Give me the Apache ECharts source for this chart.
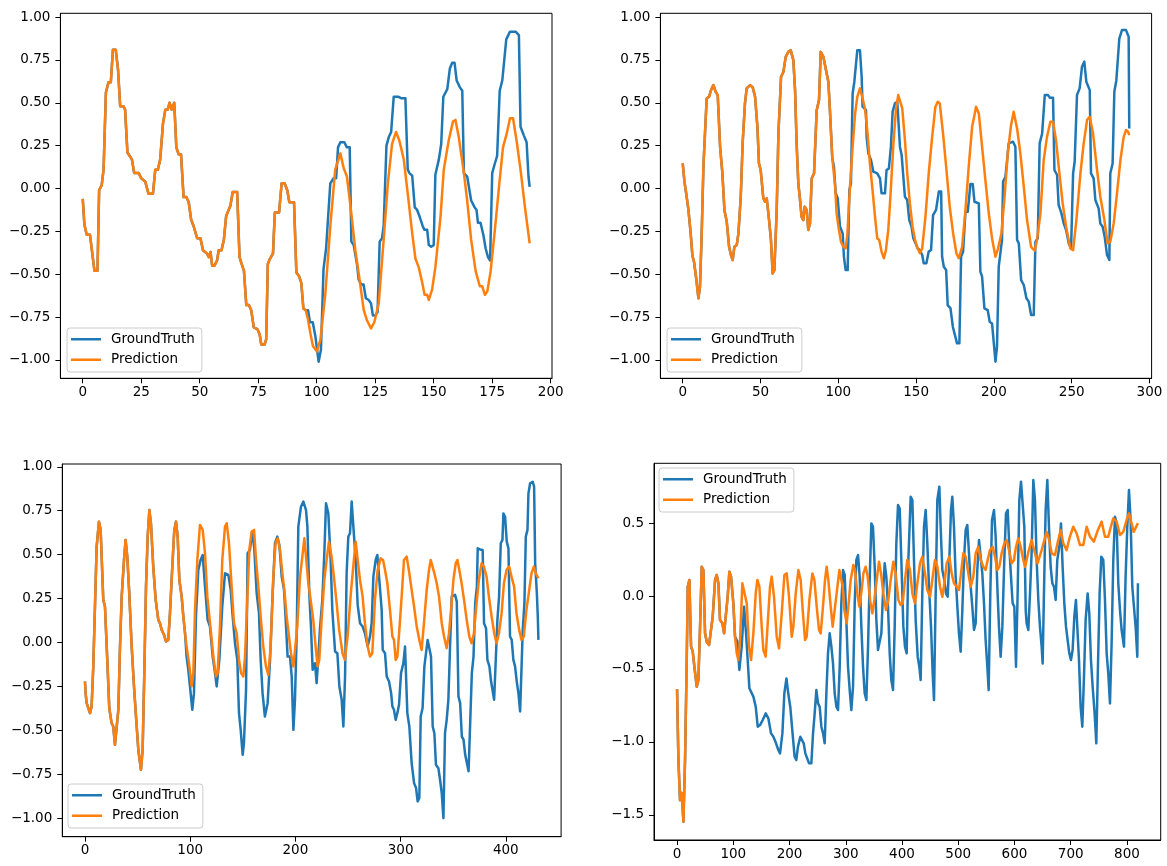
<!DOCTYPE html>
<html>
<head>
<meta charset="utf-8">
<script src="https://cdn.jsdelivr.net/npm/echarts@6/dist/echarts.min.js"></script>
<style>html,body{margin:0;padding:0;background:#fff}#c{width:1167px;height:866px}</style>
</head>
<body>
<div id="c"></div>
<script>
// ---------- Panel 1 (0..191) ----------
const p1Shared = [[0,-0.06],[0.7,-0.21],[1.7,-0.27],[3.1,-0.27],[5,-0.48],[6.3,-0.48],[7,-0.01],[8.1,0.02],[8.9,0.11],[9.9,0.56],[11,0.62],[12,0.62],[12.9,0.81],[14.1,0.81],[15.1,0.69],[16,0.48],[17.4,0.48],[18.1,0.46],[19.1,0.21],[21,0.17],[22,0.09],[23.9,0.09],[25,0.06],[26.7,0.04],[28.1,-0.03],[30,-0.03],[31,0.11],[32.1,0.11],[33.1,0.17],[34.3,0.38],[35.3,0.46],[36.3,0.46],[37.1,0.5],[38,0.46],[39.1,0.5],[40,0.24],[41,0.2],[42,0.2],[43.1,-0.05],[44.3,-0.05],[45.3,-0.08],[46.3,-0.18],[47.4,-0.22],[48.9,-0.29],[50.3,-0.29],[51.4,-0.36],[53.1,-0.38],[53.9,-0.4],[54.6,-0.37],[55.3,-0.45],[56.3,-0.45],[57.4,-0.42],[58.1,-0.36],[59.3,-0.36],[60.3,-0.3],[61.3,-0.16],[63.1,-0.1],[64.1,-0.02],[66,-0.02],[67,-0.4],[67.9,-0.44],[68.9,-0.48],[69.9,-0.68],[71,-0.68],[72,-0.71],[73.1,-0.81],[74.6,-0.82],[75.6,-0.85],[76.3,-0.91],[77.7,-0.91],[78.4,-0.88],[79.1,-0.44],[80,-0.41],[81.3,-0.38],[82.1,-0.14],[83.9,-0.14],[85,0.03],[86.3,0.03],[87.4,-0.01],[88.3,-0.08],[90.3,-0.08],[91.3,-0.49],[92.4,-0.51],[93.4,-0.55],[94.3,-0.7],[95.3,-0.71]];
const p1TruthTail = [[96.3,-0.71],[97.1,-0.78],[98.3,-0.78],[99.4,-0.86],[100.8,-1.01],[101.8,-0.94],[102.9,-0.47],[104,-0.35],[105.8,0.03],[107.2,0.06],[108.3,0.06],[109.1,0.24],[110.1,0.27],[111.8,0.27],[112.9,0.24],[114.1,0.24],[114.8,-0.31],[115.8,-0.33],[117.2,-0.44],[117.9,-0.53],[119,-0.56],[120,-0.56],[121,-0.64],[122.2,-0.65],[123.2,-0.67],[124,-0.74],[125,-0.74],[126,-0.72],[126.9,-0.31],[127.9,-0.29],[128.6,-0.22],[129.8,0.25],[130.8,0.3],[131.8,0.33],[132.9,0.535],[135,0.535],[136.2,0.526],[137.9,0.526],[138.9,0.11],[139.6,0.09],[140.8,0.075],[141.9,-0.11],[142.9,-0.125],[144,-0.165],[145.3,-0.22],[146,-0.24],[147.2,-0.24],[147.9,-0.33],[148.9,-0.34],[150,-0.33],[150.7,0.08],[152.2,0.17],[153.2,0.26],[154.1,0.535],[155.8,0.58],[156.9,0.7],[157.9,0.734],[158.9,0.734],[159.8,0.63],[161.2,0.59],[162.2,0.57],[162.9,0.09],[164.3,0.07],[165,0.07],[166,-0.07],[167.5,-0.11],[168.3,-0.125],[168.9,-0.2],[170,-0.2],[171.2,-0.27],[172.2,-0.35],[173.2,-0.4],[174.1,-0.42],[175,0.09],[176,0.14],[177.1,0.19],[178.2,0.57],[179.3,0.63],[180,0.64],[181,0.87],[182.6,0.915],[185,0.915],[186.4,0.895],[187.1,0.36],[188.5,0.31],[189.7,0.27],[190.5,0.07],[191,0.01]];
const p1PredTail = [[96.2,-0.76],[97.3,-0.845],[98.4,-0.92],[100.1,-0.95],[101.6,-0.88],[103.7,-0.61],[105.8,-0.22],[107.9,0.11],[110.1,0.205],[111.5,0.12],[112.9,0.07],[114.4,-0.1],[116.5,-0.36],[118.7,-0.57],[120.1,-0.71],[121.5,-0.77],[123.2,-0.816],[124.6,-0.78],[126.5,-0.67],[128.6,-0.3],[130.4,0.03],[132.2,0.26],[133.9,0.33],[135.3,0.28],[137.2,0.17],[138.9,-0.03],[140.8,-0.26],[142.2,-0.41],[143.6,-0.46],[145.1,-0.55],[146.1,-0.62],[147.2,-0.62],[147.9,-0.65],[149.3,-0.59],[150.7,-0.46],[152.9,-0.165],[154.3,0.11],[156.4,0.28],[158.2,0.39],[159.3,0.4],[160.7,0.3],[162.9,0.09],[164.3,-0.07],[166,-0.3],[167.9,-0.48],[169.7,-0.57],[170.7,-0.57],[171.9,-0.62],[172.9,-0.6],[174.3,-0.485],[176,-0.26],[177.9,0.01],[179.6,0.24],[181.2,0.32],[182.6,0.41],[183.9,0.41],[185.4,0.28],[187.1,0.11],[189,-0.11],[191,-0.32]];

// ---------- Panel 2 (0..287) ----------
const p2Shared = [[0,0.146],[1.1,0.04],[2.1,-0.02],[3.6,-0.12],[5.1,-0.26],[6.2,-0.39],[7.3,-0.43],[8.6,-0.52],[10.1,-0.64],[11.1,-0.57],[12.2,-0.26],[13.3,0.13],[14.3,0.32],[15.4,0.525],[16.9,0.535],[18.2,0.574],[19.7,0.603],[21.2,0.564],[22.5,0.545],[24,0.244],[25.5,0.088],[26.8,-0.126],[28.3,-0.194],[29.8,-0.34],[31,-0.388],[32.1,-0.417],[33.2,-0.34],[34.7,-0.33],[35.8,-0.262],[37.3,-0.048],[38.5,0.263],[40,0.497],[41.1,0.584],[43.3,0.603],[45,0.59],[46.5,0.535],[48,0.36],[49,0.146],[50.1,0.108],[51.8,-0.057],[52.9,-0.077],[54,-0.057],[55.5,-0.184],[56.7,-0.3],[57.8,-0.495],[58.9,-0.476],[60.4,-0.126],[61.5,0.321],[63.2,0.652],[64.7,0.68],[66.2,0.768],[67.9,0.797],[69.4,0.807],[71.1,0.749],[72.2,0.574],[73.2,0.263],[74.3,0.03],[75.4,-0.067],[76.4,-0.165],[77.5,-0.184],[78.4,-0.106],[79.7,-0.126],[80.7,-0.242],[81.8,-0.204],[82.9,0.059],[84.4,0.088],[86.1,0.457],[87.6,0.516],[88.7,0.797],[90.4,0.768],[92.1,0.69],[93.6,0.623],[94.6,0.457],[96.1,0.18]];
const p2TruthTail = [[97.2,0.127],[98.3,-0.028],[99.6,-0.057],[101.1,-0.223],[102.8,-0.262],[103.6,-0.397],[104.7,-0.476],[106,-0.476],[107.1,-0.009],[108.1,0.03],[109.2,0.554],[110.3,0.623],[111.3,0.623],[112.2,0.807],[113.9,0.807],[115,0.652],[115.6,0.477],[117.8,0.457],[118.2,0.3],[119.3,0.205],[121,0.166],[122.5,0.098],[125,0.088],[126.8,0.059],[127.8,-0.028],[130,-0.028],[131,0.108],[132.5,0.117],[133.8,0.244],[134.9,0.448],[136.4,0.497],[137.9,0.506],[139,0.497],[139.6,0.244],[140.7,0.195],[141.8,0.195],[142.8,-0.048],[144.3,-0.067],[145.6,-0.184],[147.1,-0.223],[148.2,-0.29],[149.7,-0.32],[151,-0.35],[152.4,-0.359],[153.9,-0.388],[154.9,-0.436],[156.6,-0.436],[158.1,-0.368],[159.6,-0.359],[160.9,-0.155],[162.8,-0.125],[164.6,-0.018],[166.1,-0.018],[166.7,-0.397],[167.8,-0.456],[169.3,-0.476],[170.3,-0.68],[172.1,-0.699],[173.6,-0.806],[174.6,-0.816],[176.3,-0.903],[177.8,-0.903],[178.9,-0.397],[180.2,-0.368],[181.7,-0.136],[183.2,-0.136],[184.9,0.026],[186.4,0.026],[187.5,-0.077],[190.3,-0.087],[191.3,-0.485],[192.4,-0.514],[193.9,-0.699],[196,-0.709],[197.3,-0.777],[198.8,-0.787],[201,-1.01],[202,-0.922],[203.1,-0.456],[205.2,-0.3],[205.9,0.04],[207.4,0.069],[208.5,0.166],[209.5,0.263],[210.6,0.273],[212.3,0.273],[213.8,0.244],[214.9,-0.3],[216,-0.32],[217.5,-0.534],[219.2,-0.563],[220.9,-0.64],[222.4,-0.66],[223.9,-0.738],[225.6,-0.738],[226.7,-0.31],[228.2,-0.29],[229.4,0.263],[231,0.321],[232.7,0.545],[234.8,0.545],[235.9,0.53],[238,0.53],[238.9,0.108],[240.6,0.079],[241.6,-0.096],[243.4,-0.145],[244.9,-0.204],[246.4,-0.242],[248.1,-0.32],[249.6,-0.349],[250.9,0.088],[251.9,0.156],[253.4,0.545],[255.1,0.584],[256.6,0.71],[258.1,0.74],[259.4,0.623],[261.6,0.574],[262.4,0.088],[264.1,0.059],[265.2,-0.067],[267.3,-0.116],[268.4,-0.204],[269.9,-0.223],[271.2,-0.281],[272.7,-0.388],[274.2,-0.417],[274.8,0.088],[276.3,0.146],[277.4,0.564],[278.7,0.632],[279.6,0.642],[280.6,0.875],[282.3,0.924],[284.9,0.924],[286.6,0.885],[287,0.35]];
const p2PredTail = [[97.9,0.02],[98.9,-0.145],[100.4,-0.242],[101.7,-0.31],[103.2,-0.339],[104.7,-0.349],[105.8,-0.27],[107.5,0.011],[109.2,0.244],[110.7,0.428],[112.2,0.535],[113.9,0.584],[115.6,0.525],[117.1,0.467],[118.8,0.321],[120.3,0.146],[122,-0.009],[123.6,-0.165],[125,-0.29],[126.3,-0.3],[127.8,-0.368],[129.3,-0.407],[130.6,-0.359],[132.1,-0.242],[133.6,-0.028],[135.3,0.244],[137,0.457],[138.5,0.545],[139.6,0.545],[141.1,0.467],[142.8,0.283],[144.3,0.088],[146,-0.087],[147.7,-0.223],[149.3,-0.3],[150.6,-0.34],[152.4,-0.378],[153.9,-0.349],[156,-0.165],[158.1,0.088],[160.3,0.3],[162.4,0.477],[163.9,0.506],[165.2,0.496],[167.3,0.321],[169.5,0.108],[171.6,-0.106],[173.8,-0.262],[175.9,-0.378],[177.4,-0.407],[179.6,-0.34],[181.7,-0.126],[183.8,0.127],[186,0.36],[187.5,0.428],[188.5,0.477],[190.3,0.438],[192.4,0.244],[194.5,0.05],[196.7,-0.145],[198.8,-0.291],[201,-0.398],[202.7,-0.349],[204.8,-0.262],[206.7,-0.067],[208.9,0.205],[211,0.369],[212.7,0.448],[214.9,0.35],[217,0.205],[219.2,0.011],[221.3,-0.184],[223.9,-0.34],[226.2,-0.363],[227.7,-0.3],[229.9,-0.145],[232,0.166],[234.1,0.3],[236.3,0.39],[238,0.39],[239.9,0.283],[242.1,0.088],[244.2,-0.087],[246.4,-0.223],[249.1,-0.349],[250.9,-0.359],[253,-0.184],[255.6,0.088],[257.7,0.263],[259.9,0.4],[261.6,0.418],[263.7,0.321],[266.3,0.108],[268.4,-0.048],[271,-0.184],[273.1,-0.32],[274.8,-0.31],[277,-0.204],[279.1,-0.028],[281.3,0.166],[283.4,0.3],[284.9,0.341],[286.2,0.331],[287,0.311]];

// ---------- Panel 3 (0..431) ----------
const p3Shared = [[0,-0.222],[0.6,-0.288],[1.6,-0.345],[3.2,-0.354],[4.8,-0.402],[6.3,-0.364],[7.9,-0.136],[9.5,0.205],[11.1,0.546],[13.3,0.688],[14.9,0.641],[17.4,0.243],[19,0.205],[21.2,-0.099],[23.1,-0.373],[25.3,-0.459],[26.9,-0.478],[28.5,-0.582],[30.1,-0.582],[31.7,-0.383],[33.3,-0.023],[34.9,0.261],[37.1,0.47],[38.6,0.584],[40.2,0.489],[42.1,0.28],[44.4,-0.023],[46.6,-0.25],[48.5,-0.421],[50.7,-0.61],[53.2,-0.724],[54.8,-0.61],[56.4,-0.174],[58,0.318],[59.6,0.603],[61.2,0.754],[62.7,0.679],[64.9,0.432],[67.2,0.243],[69.7,0.129],[71.3,0.11],[72.9,0.072],[75.1,0.044],[77,0.006],[79.2,0.015],[80.8,0.167],[83,0.432],[84.9,0.641],[86.5,0.688],[88.1,0.603],[89.7,0.356],[91.9,0.261],[93.5,0.148],[95.1,0.053]];
const p3TruthTail = [[96.6,-0.08],[98.2,-0.155],[99.8,-0.25],[102,-0.383],[103.6,-0.288],[105.5,0.148],[107.7,0.413],[109.9,0.47],[111.9,0.498],[114.1,0.318],[116.6,0.129],[118.8,0.091],[121.4,-0.08],[123.6,-0.174],[125.2,-0.25],[127.7,-0.099],[130.5,0.205],[133.1,0.394],[136.3,0.385],[138.5,0.3],[140.4,0.148],[142.6,-0.004],[144.8,-0.099],[146.4,-0.402],[148,-0.497],[149.9,-0.639],[151.1,-0.572],[153.1,-0.269],[154.6,0.508],[156.8,0.527],[159,0.631],[160.9,0.536],[163.2,0.28],[165.4,0.167],[167,-0.099],[168.8,-0.288],[171,-0.421],[173.6,-0.345],[175.9,-0.099],[178.4,0.28],[180.6,0.565],[182.8,0.603],[184.8,0.555],[187,0.375],[189.2,0.3],[190.8,0.129],[192.6,-0.08],[194.9,-0.08],[196.5,-0.193],[198.1,-0.497],[199.6,-0.326],[201.2,0.034],[202.8,0.66],[205.3,0.773],[207.6,0.802],[210.1,0.754],[211.4,0.66],[213.2,0.28],[214.8,0.091],[216.4,-0.155],[218.6,-0.118],[220.2,-0.231],[221.8,-0.08],[223.4,0.082],[225.6,0.243],[227.5,0.508],[229.1,0.792],[231.3,0.735],[233.5,0.47],[235.1,0.186],[237.7,-0.051],[239.9,-0.061],[241.8,-0.25],[244,-0.326],[245.6,-0.478],[247.2,-0.193],[248.7,0.394],[250.3,0.603],[251.9,0.622],[253.5,0.802],[255.1,0.66],[257.3,0.47],[259.2,0.214],[261.4,0.11],[263.9,0.091],[266.1,0.053],[268.7,-0.023],[270.9,0.034],[272.5,0.11],[274.1,0.375],[276.3,0.47],[277.9,0.498],[279.8,0.489],[282,0.186],[283,-0.042],[285.2,-0.061],[286.8,-0.193],[289,-0.222],[291,-0.288],[292.2,-0.364],[293.7,-0.383],[295.3,-0.44],[296.9,-0.402],[298.5,-0.354],[300.4,-0.174],[302.6,-0.118],[304.2,-0.023],[305.8,-0.023],[306.4,-0.402],[308.3,-0.478],[310.5,-0.686],[312.8,-0.8],[314.7,-0.828],[316.2,-0.904],[317.8,-0.885],[319.1,-0.421],[320.9,-0.373],[322.6,-0.136],[324.1,-0.127],[325.7,0.015],[327.3,0.015],[328.9,-0.08],[330.5,-0.478],[332.1,-0.516],[333.6,-0.696],[335.9,-0.715],[337.5,-0.781],[339.1,-0.857],[340.7,-0.999],[342.2,-0.516],[343.8,-0.44],[345.4,-0.326],[347,-0.023],[348.6,0.262],[350.2,0.271],[351.8,0.271],[353.4,0.233],[355,-0.307],[356.6,-0.345],[358.2,-0.535],[359.8,-0.553],[361.4,-0.639],[363,-0.648],[364.6,-0.733],[366.1,-0.733],[367.7,-0.174],[369.3,-0.08],[370.9,0.224],[372.5,0.318],[373.3,0.536],[375.5,0.53],[378,0.527],[379.3,0.11],[381.2,0.082],[382.5,-0.099],[384.4,-0.136],[386,-0.222],[387.6,-0.231],[388.9,-0.326],[390.8,-0.335],[392,0.129],[393.6,0.262],[395.2,0.565],[396.8,0.584],[397.7,0.735],[399.3,0.716],[400.9,0.574],[402.5,0.536],[404,0.034],[405.6,0.015],[407.2,-0.099],[408.8,-0.136],[410.4,-0.222],[412,-0.288],[413.6,-0.392],[415.2,-0.402],[416.1,0.072],[417.7,0.224],[419,0.603],[420.6,0.641],[421.5,0.849],[423.1,0.906],[425.6,0.915],[426.9,0.887],[427.9,0.451],[429.5,0.281],[430.4,0.148],[431,0.015]];
const p3PredTail = [[96.6,-0.023],[98.9,-0.118],[101.4,-0.25],[103,-0.174],[104.6,0.186],[106.8,0.47],[109.3,0.669],[111.9,0.641],[114.1,0.508],[116.3,0.261],[119.5,0.072],[122,-0.08],[124.5,-0.193],[126.1,-0.174],[128.3,0.091],[130.5,0.47],[133.1,0.66],[134.7,0.679],[136.9,0.565],[139.4,0.318],[141.6,0.11],[144.2,0.053],[146.4,-0.099],[148.3,-0.174],[150.5,-0.193],[152.1,-0.08],[154.3,0.243],[156.2,0.527],[158.4,0.631],[160.7,0.641],[162.6,0.47],[164.8,0.318],[167,0.148],[169.5,-0.023],[172,-0.136],[174.3,-0.184],[176.5,-0.023],[179,0.375],[181.2,0.565],[183.1,0.593],[185.4,0.527],[187.6,0.394],[189.5,0.3],[191.7,0.148],[193.9,0.034],[195.8,-0.061],[198.1,-0.136],[199.6,-0.127],[201.8,0.091],[204.4,0.375],[206.6,0.489],[208.5,0.593],[210.1,0.489],[212.3,0.337],[214.5,0.243],[217,0.129],[219.2,-0.023],[221.1,-0.136],[222.7,-0.099],[224.9,0.129],[227.5,0.356],[229.7,0.47],[231.9,0.574],[234.4,0.489],[236.6,0.375],[239.2,0.224],[241.6,0.072],[244.8,-0.061],[247,-0.099],[249.6,0.034],[252.7,0.28],[255.6,0.47],[257.3,0.574],[259.2,0.47],[261.4,0.356],[263.9,0.261],[266.1,0.11],[268.7,-0.023],[270.9,-0.08],[273.1,-0.061],[275.6,0.243],[278.2,0.413],[281,0.479],[283.3,0.47],[285.2,0.413],[287.4,0.337],[289.9,0.186],[292.2,0.034],[293.7,0.015],[295.3,-0.099],[296.9,-0.08],[298.8,0.072],[301,0.262],[303.2,0.47],[305.8,0.489],[308.3,0.394],[310.5,0.3],[312.8,0.205],[315.3,0.091],[317.8,0.015],[320,-0.042],[322.2,0.11],[324.8,0.3],[327,0.413],[328.6,0.47],[330.5,0.48],[332.1,0.394],[334.3,0.337],[336.5,0.262],[339.1,0.11],[341.3,0.034],[343.8,-0.032],[346,0.053],[348.2,0.205],[350.2,0.356],[352.4,0.451],[354,0.47],[355.8,0.413],[358,0.337],[360.3,0.243],[362.8,0.129],[365.3,0.034],[367.5,-0.004],[369.7,0.053],[372.2,0.224],[374.4,0.356],[377,0.451],[379.2,0.432],[381.7,0.375],[383.9,0.262],[386.5,0.148],[389,0.053],[391.2,-0.004],[393.5,0.053],[396,0.167],[398.2,0.337],[400.7,0.413],[403.2,0.432],[405.4,0.375],[407.9,0.318],[410.1,0.167],[412.7,0.072],[414.9,0.015],[417.1,0.034],[419.6,0.186],[421.8,0.28],[424.4,0.394],[426.6,0.432],[428.5,0.394],[430.1,0.394],[431,0.366]];

// ---------- Panel 4 (0..~819) ----------
const p4Shared = [[0,-0.64],[2.4,-1.125],[5.3,-1.4],[8.3,-1.35],[11.3,-1.547],[14.2,-1.125],[17.2,-0.44],[19,0.064],[21.9,0.11],[24.9,-0.347],[27.9,-0.382],[30.8,-0.485],[35,-0.622],[37.9,-0.576],[40.9,-0.21],[43.9,0.2],[46.8,0.178],[49.8,-0.256],[52.7,-0.313],[56.9,-0.336],[60.4,-0.347],[63.4,-0.142],[67.6,0.11],[70.5,0.144],[73.5,0.087],[76.4,-0.165],[80.6,-0.187],[83.6,-0.256],[87.1,-0.256],[90,-0.005],[93,0.167],[96,0.133],[100.1,-0.05],[103.1,-0.28]];
const p4TruthTail = [[107.3,-0.313],[110.8,-0.507],[114.9,-0.347],[119.1,-0.073],[122.7,-0.256],[125.6,-0.439],[128.6,-0.633],[131.6,-0.645],[135.7,-0.69],[139.9,-0.759],[143.4,-0.896],[147.6,-0.885],[152.3,-0.85],[157.6,-0.805],[162.4,-0.839],[167.1,-0.942],[171.3,-0.965],[176,-1.01],[180.1,-1.056],[183.1,-1.079],[187.3,-0.942],[190.8,-0.667],[194.5,-0.565],[197.7,-0.667],[201.3,-0.759],[204.9,-0.919],[209,-1.1],[212,-1.125],[215,-1.033],[219.2,-0.965],[222.2,-0.953],[225.2,-1.01],[228.1,-1.079],[231.1,-1.09],[234.7,-1.147],[238.8,-1.147],[241.8,-0.942],[244.7,-0.805],[247.7,-0.645],[250.7,-0.736],[253.6,-0.759],[256.6,-0.896],[259.6,-0.942],[262.5,-1.01],[265.5,-0.667],[268.4,-0.393],[271.4,-0.256],[274.4,-0.347],[277.3,-0.462],[280.3,-0.667],[283.3,-0.759],[286.2,-0.782],[289.2,-0.485],[292.1,-0.05],[295.1,0.178],[298.1,0.144],[301,-0.165],[304,-0.485],[307,-0.645],[309.9,-0.782],[312.9,-0.622],[315.9,-0.05],[318.8,0.247],[321.8,0.281],[324.7,0.133],[327.7,-0.21],[330.7,-0.485],[333.6,-0.667],[336.6,-0.713],[339.6,-0.347],[342.5,0.11],[345.5,0.498],[348.4,0.475],[351.4,0.201],[354.4,-0.165],[357.3,-0.37],[360.3,-0.359],[363.3,-0.256],[366.2,0.018],[369.2,0.224],[372.1,0.133],[375.1,-0.073],[378.1,-0.393],[381,-0.576],[384,-0.645],[387,-0.21],[389.9,0.361],[392.9,0.624],[395.9,0.6],[398.8,0.247],[402.4,-0.21],[405.3,-0.347],[408.3,-0.393],[411.3,0.247],[415.4,0.681],[418.4,0.658],[421.3,0.247],[424.3,-0.165],[427.9,-0.416],[430.8,-0.485],[433.2,-0.576],[436.1,0.018],[439.1,0.475],[442.1,0.59],[445,0.361],[448,0.064],[451.6,-0.21],[454.5,-0.53],[456.9,-0.713],[459.9,0.018],[462.8,0.658],[466.4,0.75],[468.7,0.475],[471.7,0.178],[475.3,0.11],[478.2,0.018],[481.2,-0.005],[484.1,0.247],[487.1,0.59],[489.5,0.681],[492.4,0.475],[495.4,0.133],[498.4,-0.073],[501.3,-0.256],[504.3,-0.382],[507.3,-0.096],[510.2,0.247],[513.2,0.453],[516.1,0.487],[519.1,0.293],[522.1,0.064],[525,-0.073],[528,-0.233],[531,-0.187],[533.9,0.178],[536.9,0.384],[539.9,0.373],[542.8,0.155],[545.8,-0.05],[548.7,-0.302],[551.7,-0.485],[554.1,-0.645],[557,0.018],[560,0.521],[563.6,0.59],[566.5,0.407],[569.5,0.064],[572.4,-0.21],[575.4,-0.416],[578.4,-0.21],[581.9,0.247],[584.9,0.567],[587.9,0.59],[590.8,0.338],[593.8,0.133],[596.7,-0.05],[599.7,-0.073],[602.7,-0.485],[605.6,0.018],[608.6,0.658],[611.6,0.784],[614.5,0.773],[617.5,0.475],[620,-0.1],[621.6,-0.187],[624.6,-0.233],[627.6,0.018],[630.5,0.3],[633.5,0.795],[636.4,0.658],[639.4,0.247],[642.4,-0.027],[645.3,-0.21],[648.3,-0.347],[650.1,-0.462],[652.4,0.018],[655.4,0.59],[658.4,0.795],[661.3,0.475],[664.3,0.201],[667.3,0.087],[670.2,0.064],[673.2,-0.027],[676.1,0.247],[679.7,0.338],[682.7,0.498],[685.6,0.201],[688.6,-0.05],[691.6,-0.21],[694.5,-0.302],[697.5,-0.393],[700.4,-0.439],[703.4,-0.37],[706.4,-0.142],[709.3,-0.027],[711.7,-0.21],[714.7,-0.439],[717.6,-0.759],[720.6,-0.896],[723.6,-0.553],[726.5,-0.165],[730.1,0.018],[733,-0.119],[736,-0.439],[739,-0.622],[742.5,-0.805],[745.5,-1.01],[748.4,-0.485],[751.4,0.018],[754.4,0.27],[757.9,0.247],[760.9,-0.027],[763.9,-0.393],[766.8,-0.53],[769.8,-0.736],[772.7,-0.325],[775.7,0.247],[778.7,0.544],[781.6,0.498],[784.6,0.087],[787.6,-0.096],[790.5,-0.233],[794.7,-0.347],[797.6,0.133],[800.6,0.475],[803.6,0.727],[806.5,0.521],[809.5,0.064],[812.4,-0.073],[815.4,-0.21],[818.4,-0.416],[819.5,0.087]];
const p4PredTail = [[106.1,-0.393],[109,-0.439],[112,-0.302],[116.1,0.087],[119.1,0.098],[123.9,-0.05],[128,-0.347],[131.6,-0.439],[135.7,-0.256],[139.9,0.018],[142.8,0.11],[146.4,0.064],[150.5,-0.21],[153.5,-0.37],[157.6,-0.416],[161.2,-0.187],[165.3,0.064],[168.3,0.133],[172.4,-0.005],[177.2,-0.279],[181.3,-0.359],[186.1,-0.119],[190.8,0.144],[195,0.155],[199.1,-0.005],[203.9,-0.279],[206.8,-0.21],[211,0.018],[215.7,0.178],[219.8,0.11],[223.4,-0.096],[227.6,-0.302],[230.5,-0.279],[235.3,-0.027],[240.6,0.155],[244.2,0.11],[248.3,-0.073],[252.4,-0.233],[255.4,-0.256],[259,-0.096],[263.1,0.11],[266,0.201],[269,0.11],[273.2,-0.073],[276.7,-0.21],[279.7,-0.199],[283.8,0.018],[288.6,0.178],[291.5,0.178],[294.5,0.064],[297.5,-0.096],[301.6,-0.187],[304.6,-0.073],[308.7,0.11],[313.5,0.213],[316.4,0.178],[320.6,0.018],[324.1,-0.073],[328.3,0.041],[331.3,0.155],[335.4,0.201],[339,0.133],[343.1,-0.027],[347.3,-0.119],[350.8,-0.027],[355,0.11],[359.1,0.235],[362.7,0.155],[366.8,0.018],[371.6,-0.096],[375.7,-0.027],[379.9,0.11],[384.6,0.235],[388.7,0.155],[393.5,-0.027],[397.6,-0.062],[401.2,-0.05],[405.3,0.11],[409.5,0.247],[414.2,0.178],[418.4,0.018],[423.1,-0.05],[427.3,0.087],[432,0.224],[436.1,0.27],[440.9,0.155],[445,0.041],[449.8,-0.005],[453.9,0.11],[458.6,0.247],[462.8,0.201],[467.6,0.064],[471.7,-0.005],[475.3,0.087],[479.4,0.224],[484.1,0.27],[488.3,0.155],[492.4,0.087],[497.2,0.064],[501.3,0.041],[504.9,0.155],[509,0.293],[513.2,0.27],[517.9,0.155],[522.1,0.064],[526.8,0.133],[531,0.293],[535.7,0.338],[539.9,0.247],[544.6,0.201],[548.7,0.178],[552.3,0.247],[556.4,0.315],[561.2,0.338],[565.3,0.27],[569.5,0.178],[573,0.201],[577.2,0.293],[581.9,0.361],[586.1,0.384],[590.2,0.315],[595,0.224],[599.1,0.247],[602.7,0.338],[606.8,0.395],[611,0.338],[615.7,0.247],[619,0.2],[624.6,0.3],[630.5,0.384],[636,0.3],[641,0.224],[648.3,0.315],[657.2,0.44],[662,0.38],[666.1,0.293],[672,0.281],[677,0.37],[682.1,0.452],[686.8,0.361],[692.7,0.315],[698,0.4],[704.6,0.475],[710.5,0.429],[716.4,0.35],[722.4,0.35],[728.3,0.475],[734.2,0.407],[741.3,0.373],[748,0.45],[754.9,0.51],[760.9,0.407],[766.8,0.407],[771,0.47],[775.7,0.533],[781.6,0.51],[787.6,0.418],[793.5,0.44],[799.4,0.521],[803.6,0.567],[808.3,0.498],[812,0.44],[815,0.45],[819.5,0.5]];

// ---------- Tick labels ----------
const p1XTicks = [0,25,50,75,100,125,150,175,200];
const p2XTicks = [0,50,100,150,200,250,300];
const p3XTicks = [0,100,200,300,400];
const p4XTicks = [0,100,200,300,400,500,600,700,800];
const yTicksA = [-1.0,-0.75,-0.5,-0.25,0.0,0.25,0.5,0.75,1.0];
const yTicksB = [-1.5,-1.0,-0.5,0.0,0.5];
const seriesNames = ['GroundTruth','Prediction'];

const BLUE = '#1f77b4', ORANGE = '#ff7f0e';
const FONT = 'DejaVu Sans';
const FS = 13.5;

const panels = [
  {grid:{left:60.4, top:13.3, width:491.6, height:365}, x:[-9.55,200.55], y:[-1.107,1.022], xt:p1XTicks, yt:yTicksA, dec:2,
   gt:p1Shared.concat(p1TruthTail), pr:p1Shared.concat(p1PredTail), legend:{left:67, top:328}},
  {grid:{left:660.4, top:13.3, width:491.2, height:365}, x:[-14.35,301.35], y:[-1.107,1.022], xt:p2XTicks, yt:yTicksA, dec:2,
   gt:p2Shared.concat(p2TruthTail), pr:p2Shared.concat(p2PredTail), legend:{left:667, top:328}},
  {grid:{left:62.3, top:464, width:498.8, height:372.7}, x:[-21.55,452.55], y:[-1.105,1.016], xt:p3XTicks, yt:yTicksA, dec:2,
   gt:p3Shared.concat(p3TruthTail), pr:p3Shared.concat(p3PredTail), legend:{left:68, top:784}},
  {grid:{left:654, top:463.3, width:506.7, height:376.7}, x:[-41,860], y:[-1.673,0.91], xt:p4XTicks, yt:yTicksB, dec:1,
   gt:p4Shared.concat(p4TruthTail), pr:p4Shared.concat(p4PredTail), legend:{left:659, top:468}}
];

function fmt(v, d){ const s = Number(v).toFixed(d); return s.charAt(0)==='-' ? '\u2212'+s.slice(1) : s; }

const option = {
  animation:false,
  backgroundColor:'#ffffff',
  grid: panels.map(p => Object.assign({show:true, borderColor:'#000', borderWidth:1, backgroundColor:'transparent'}, p.grid)),
  xAxis: panels.map((p,i) => ({
    type:'value', gridIndex:i, min:p.x[0], max:p.x[1],
    axisLine:{show:true, onZero:false, lineStyle:{color:'#000', width:1}},
    axisTick:{show:true, inside:false, length:5, lineStyle:{color:'#000', width:1}, customValues:p.xt},
    axisLabel:{show:true, margin:7, color:'#000', fontFamily:FONT, fontSize:FS, customValues:p.xt, formatter:v=>String(Math.round(v))},
    splitLine:{show:false}
  })),
  yAxis: panels.map((p,i) => ({
    type:'value', gridIndex:i, min:p.y[0], max:p.y[1],
    axisLine:{show:true, onZero:false, lineStyle:{color:'#000', width:1}},
    axisTick:{show:true, inside:false, length:5, lineStyle:{color:'#000', width:1}, customValues:p.yt},
    axisLabel:{show:true, margin:10, color:'#000', fontFamily:FONT, fontSize:FS, customValues:p.yt, formatter:v=>fmt(v,p.dec)},
    splitLine:{show:false}
  })),
  legend: panels.map(p => ({
    data:seriesNames, orient:'vertical', left:p.legend.left, top:p.legend.top,
    icon:'rect', itemWidth:30, itemHeight:2.5, itemGap:4,
    padding:[3,7,4,4], borderColor:'#cccccc', borderWidth:1, borderRadius:3,
    backgroundColor:'rgba(255,255,255,0.8)', selectedMode:false,
    textStyle:{fontFamily:FONT, fontSize:FS, color:'#000', lineHeight:16.5, padding:[0,0,0,5]}
  })),
  series: []
};
panels.forEach((p,i) => {
  option.series.push({name:seriesNames[0], type:'line', xAxisIndex:i, yAxisIndex:i, data:p.gt, showSymbol:false, symbol:'none',
    lineStyle:{color:BLUE, width:2.5, join:'round'}, itemStyle:{color:BLUE}, z:2});
  option.series.push({name:seriesNames[1], type:'line', xAxisIndex:i, yAxisIndex:i, data:p.pr, showSymbol:false, symbol:'none',
    lineStyle:{color:ORANGE, width:2.5, join:'round'}, itemStyle:{color:ORANGE}, z:3});
});
const chart = echarts.init(document.getElementById('c'), null, {renderer:'canvas'});
chart.setOption(option);
</script>
</body>
</html>
